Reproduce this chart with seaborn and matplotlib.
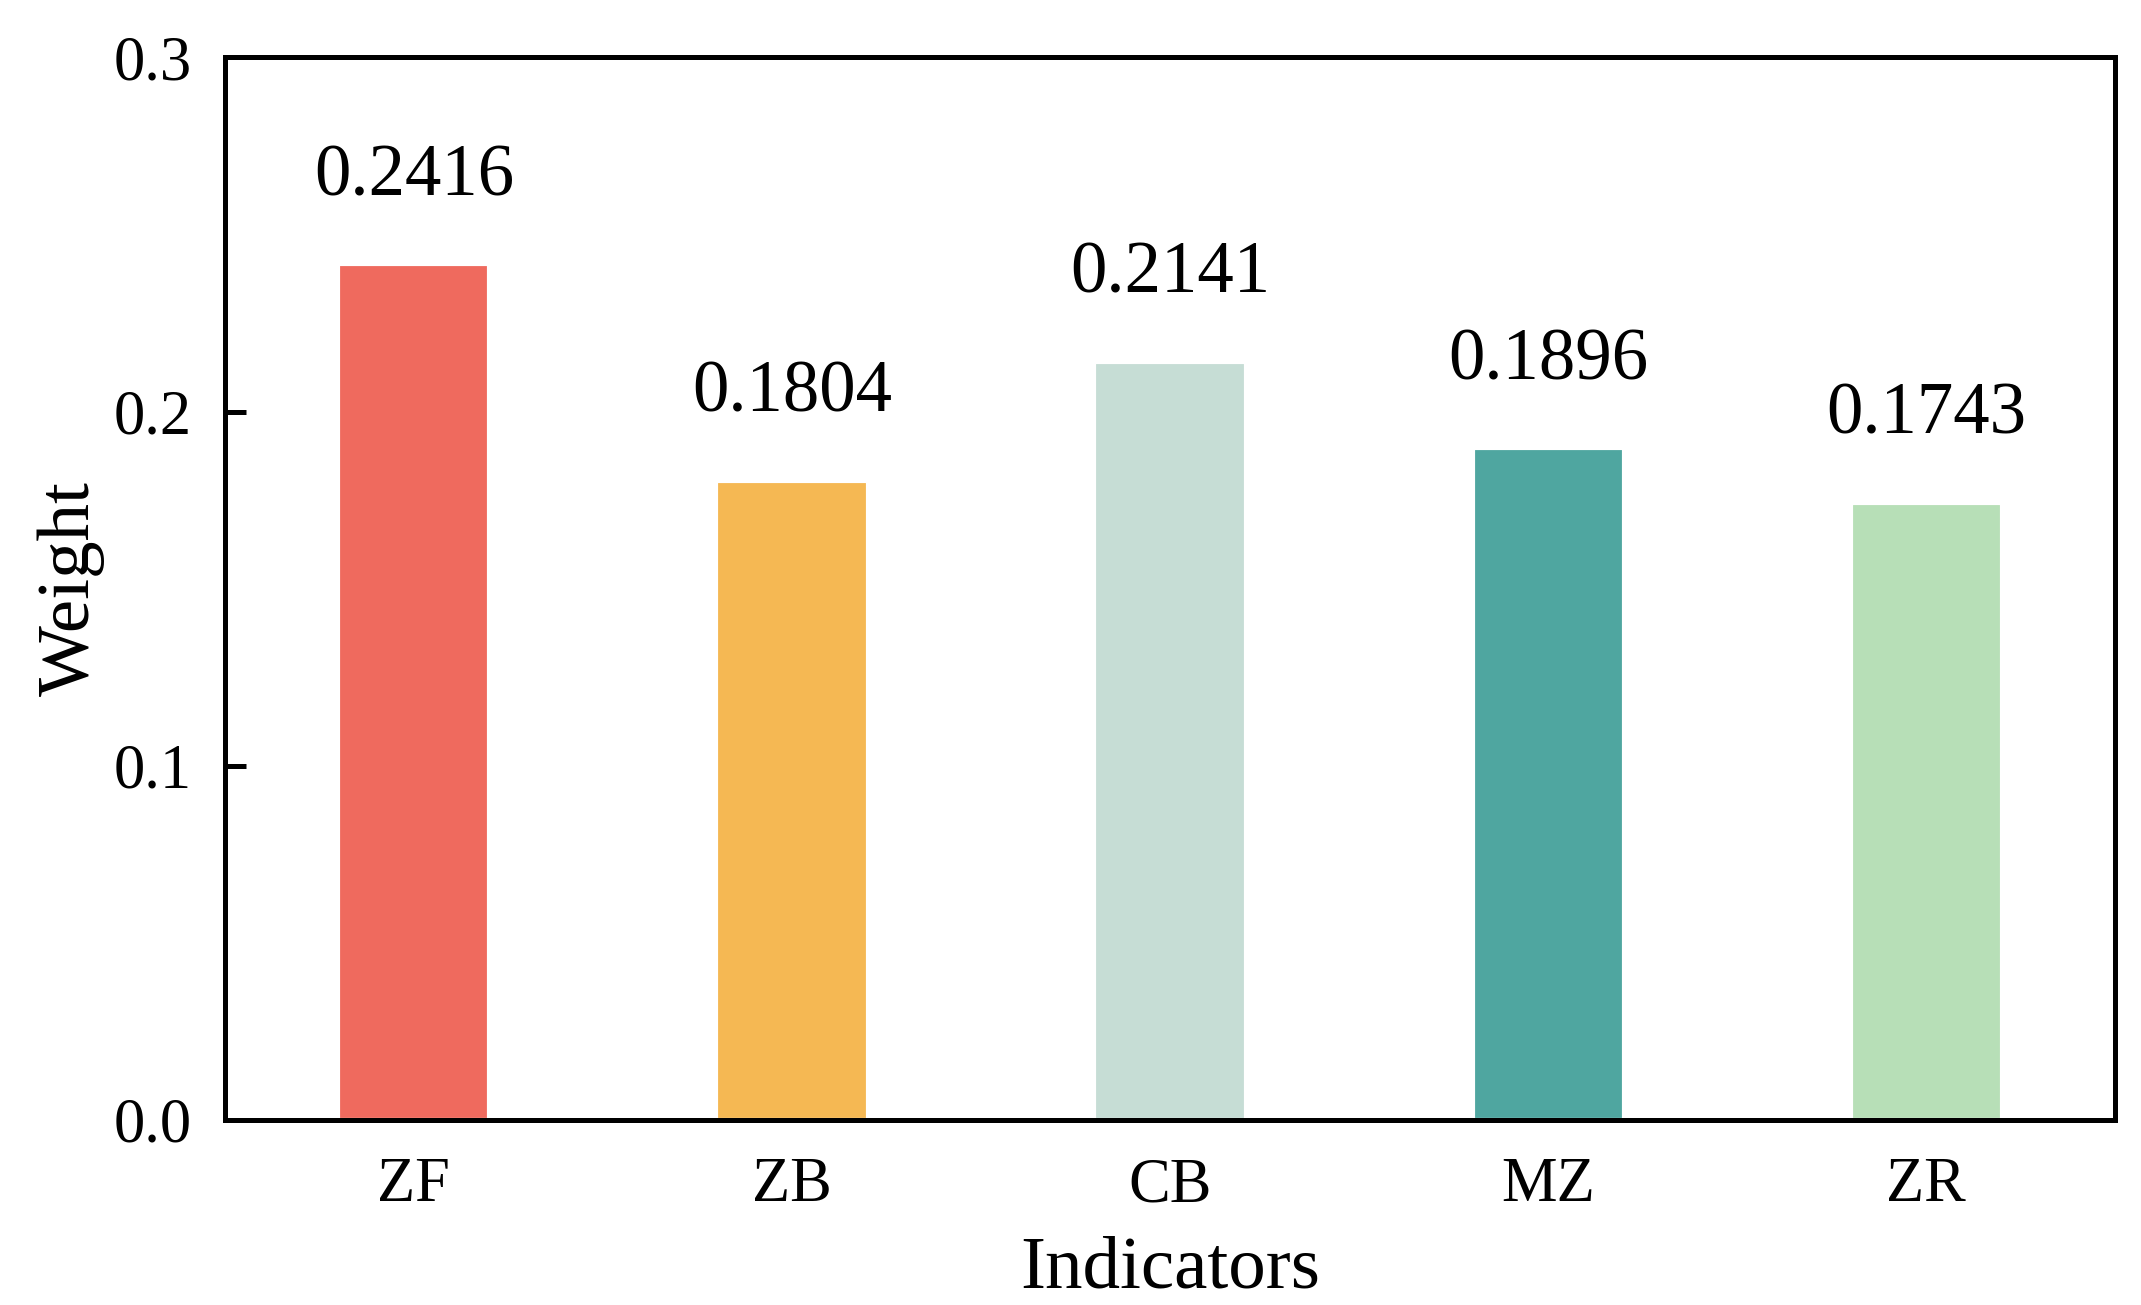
import matplotlib
matplotlib.use("Agg")
import matplotlib.pyplot as plt
import seaborn as sns
import pandas as pd

# chart data
indicators = ["ZF", "ZB", "CB", "MZ", "ZR"]
weights = [0.2416, 0.1804, 0.2141, 0.1896, 0.1743]
bar_colors = ["#EF6A5E", "#F5B853", "#C6DDD5", "#4FA6A0", "#B7DFB7"]

sns.set_theme(style="ticks")
plt.rcParams["font.family"] = ["Liberation Serif", "DejaVu Serif"]
plt.rcParams["text.color"] = "black"
plt.rcParams["axes.labelcolor"] = "black"
plt.rcParams["xtick.color"] = "black"
plt.rcParams["ytick.color"] = "black"

df = pd.DataFrame({"Indicators": indicators, "Weight": weights})

fig, ax = plt.subplots(figsize=(7.137, 4.35), dpi=300)
fig.subplots_adjust(left=0.105, right=0.988, top=0.956, bottom=0.142)

sns.barplot(data=df, x="Indicators", y="Weight", hue="Indicators",
            palette=bar_colors, width=0.4, legend=False, ax=ax,
            saturation=1)

for i, v in enumerate(weights):
    ax.text(i, v + 0.015, f"{v:.4f}", ha="center", va="bottom", fontsize=17.5)

ax.set_ylim(0, 0.3)
ax.set_yticks([0.0, 0.1, 0.2, 0.3])
ax.set_yticklabels(["0.0", "0.1", "0.2", "0.3"])
ax.set_xlim(-0.5, len(indicators) - 0.5)

ax.set_xlabel("Indicators", fontsize=18, labelpad=5)
ax.set_ylabel("Weight", fontsize=18, labelpad=2)

for sp in ax.spines.values():
    sp.set_linewidth(1.2)
    sp.set_color("black")

ax.tick_params(axis="y", direction="in", length=5, width=1.2, labelsize=15, pad=8)
ax.tick_params(axis="x", length=0, labelsize=15, pad=9)

plt.savefig("out.png", dpi=300)
plt.close()
